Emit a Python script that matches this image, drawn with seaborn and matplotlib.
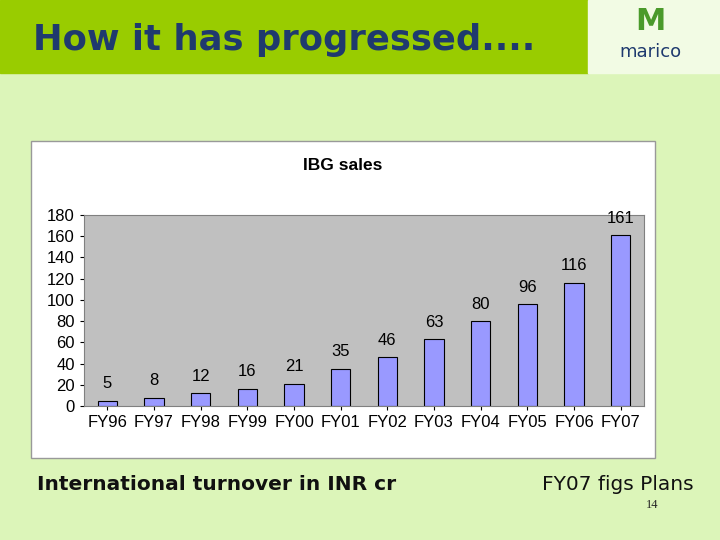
import matplotlib
matplotlib.use("Agg")
import matplotlib.pyplot as plt
import seaborn as sns
import pandas as pd
from matplotlib.patches import Rectangle

years = ["FY96","FY97","FY98","FY99","FY00","FY01","FY02","FY03","FY04","FY05","FY06","FY07"]
sales = [5, 8, 12, 16, 21, 35, 46, 63, 80, 96, 116, 161]
df = pd.DataFrame({"year": years, "sales": sales})

sns.set_style("white")
plt.rcParams['font.family'] = ['DejaVu Sans']
fig = plt.figure(figsize=(7.2, 5.4), dpi=100)
fig.patch.set_facecolor("#dcf5b9")
AR = "Liberation Sans"

# banner
fig.patches.append(Rectangle((0, 1-73/540), 588/720, 73/540, transform=fig.transFigure, color="#99cc00", zorder=-2))
fig.patches.append(Rectangle((588/720, 1-73/540), 132/720, 73/540, transform=fig.transFigure, color="#f2fbe4", zorder=-2))
fig.text(33/720, 1-40/540, "How it has progressed....", fontsize=25.5, fontweight="bold", color="#1f3a6e", va="center")
fig.text(650/720, 1-52/540, "marico", fontsize=13, color="#1f3a6e", ha="center", va="center")
fig.text(650/720, 1-22/540, "M", fontsize=22, fontweight="bold", color="#4a9a2a", ha="center", va="center")

# chart box
fig.patches.append(Rectangle((31/720, 1-458/540), 624/720, 317/540, transform=fig.transFigure,
                             facecolor="white", edgecolor="#999999", lw=1, zorder=-2))

ax = fig.add_axes([84/720, 1-406/540, 560/720, 191/540])
ax.set_zorder(2)
ax.set_facecolor("#c0c0c0")
sns.barplot(data=df, x="year", y="sales", color="#9999ff", edgecolor="black", linewidth=0.8, width=0.42, ax=ax, saturation=1)
for i, v in enumerate(sales):
    ax.text(i, v + 9, str(v), ha="center", va="bottom", fontsize=12, family=AR, color="black")
ax.set_ylim(0, 180)
ax.set_yticks(range(0, 181, 20))
ax.set_xlabel(""); ax.set_ylabel("")
ax.tick_params(axis="both", labelsize=12, length=3, left=True, bottom=True, colors="black")
for lab in ax.get_xticklabels() + ax.get_yticklabels():
    lab.set_family(AR)
for s in ax.spines.values():
    s.set_color("#808080")
fig.text(343/720, 1-165/540, "IBG sales", fontsize=12.5, fontweight="bold", family=AR, color="black", ha="center", va="center")

fig.text(37/720, 1-484/540, "International turnover in INR cr", fontsize=14.5, fontweight="bold", color="#111111", va="center")
fig.text(542/720, 1-485/540, "FY07 figs Plans", fontsize=14.5, color="#111111", va="center")
fig.text(652/720, 1-505/540, "14", fontsize=9, family="Liberation Serif", ha="center", va="center")

fig.savefig("out.png", dpi=100, facecolor=fig.get_facecolor())
